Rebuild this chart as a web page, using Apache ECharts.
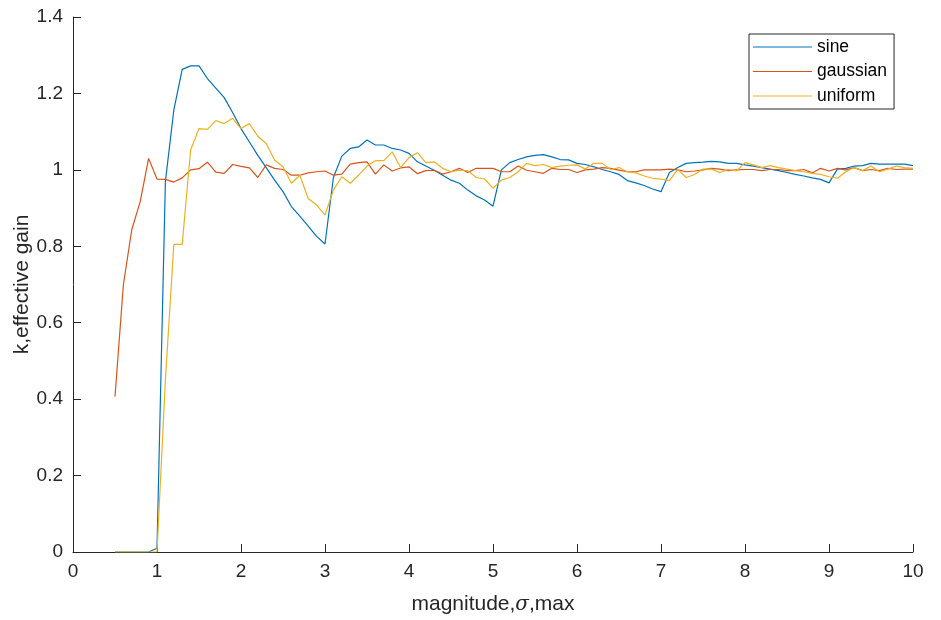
<!DOCTYPE html>
<html>
<head>
<meta charset="utf-8">
<script src="https://cdn.jsdelivr.net/npm/echarts@6/dist/echarts.min.js"></script>
<style>html,body{margin:0;padding:0;background:#fff}#c{width:941px;height:620px}</style>
</head>
<body>
<div id="c"></div>
<script>
const magnitude = [0.5,0.6,0.7,0.8,0.9,1.0,1.1,1.2,1.3,1.4,1.5,1.6,1.7,1.8,1.9,2.0,2.1,2.2,2.3,2.4,2.5,2.6,2.7,2.8,2.9,3.0,3.1,3.2,3.3,3.4,3.5,3.6,3.7,3.8,3.9,4.0,4.1,4.2,4.3,4.4,4.5,4.6,4.7,4.8,4.9,5.0,5.1,5.2,5.3,5.4,5.5,5.6,5.7,5.8,5.9,6.0,6.1,6.2,6.3,6.4,6.5,6.6,6.7,6.8,6.9,7.0,7.1,7.2,7.3,7.4,7.5,7.6,7.7,7.8,7.9,8.0,8.1,8.2,8.3,8.4,8.5,8.6,8.7,8.8,8.9,9.0,9.1,9.2,9.3,9.4,9.5,9.6,9.7,9.8,9.9,10.0];

const sine = [0,0,0,0,0,0.01,0.97,1.156,1.263,1.272,1.272,1.239,1.214,1.189,1.150,1.108,1.073,1.038,1.006,0.973,0.943,0.904,0.879,0.853,0.826,0.806,0.980,1.036,1.056,1.060,1.078,1.065,1.065,1.056,1.052,1.043,1.021,1.010,0.999,0.986,0.973,0.965,0.947,0.932,0.921,0.905,1.000,1.019,1.027,1.034,1.038,1.040,1.034,1.027,1.026,1.017,1.014,1.008,1.001,0.995,0.988,0.972,0.966,0.959,0.950,0.943,0.993,1.006,1.017,1.019,1.020,1.022,1.021,1.017,1.017,1.013,1.010,1.006,1.002,0.998,0.993,0.988,0.984,0.979,0.975,0.966,1.002,1.004,1.010,1.011,1.017,1.015,1.015,1.015,1.015,1.011];

const gaussian = [0.407,0.70,0.844,0.917,1.030,0.976,0.975,0.968,0.979,1.000,1.003,1.020,0.994,0.991,1.014,1.009,1.005,0.980,1.013,1.004,1.001,0.986,0.986,0.992,0.995,0.997,0.986,0.989,1.015,1.019,1.021,0.989,1.013,0.997,1.005,1.008,0.990,0.998,0.999,0.989,0.995,1.004,0.993,1.004,1.004,1.004,0.995,0.995,1.010,0.999,0.995,0.991,1.004,1.001,1.001,0.993,1.000,1.002,1.006,1.004,0.9995,0.995,0.995,1.000,1.000,1.000,1.002,1.000,0.995,0.997,1.000,1.004,1.002,0.998,1.000,1.001,1.001,0.998,1.001,1.001,0.998,0.998,1.001,0.992,1.004,0.997,1.004,1.000,1.006,0.998,1.001,0.998,1.004,1.001,1.002,1.002];

const uniform = [0,0,0,0,0,0,0.45,0.805,0.805,1.052,1.108,1.106,1.129,1.121,1.135,1.108,1.121,1.088,1.069,1.026,1.008,0.965,0.986,0.925,0.908,0.882,0.947,0.982,0.965,0.986,1.010,1.024,1.024,1.047,1.006,1.032,1.045,1.019,1.021,1.004,0.995,0.999,0.998,0.980,0.976,0.952,0.973,0.980,0.995,1.017,1.011,1.014,1.006,1.010,1.012,1.013,1.002,1.017,1.017,1.001,1.006,0.995,0.992,0.984,0.978,0.976,0.972,1.001,0.980,0.988,1.002,1.002,0.993,1.001,0.997,1.019,1.013,1.006,1.011,1.006,1.002,0.998,0.995,0.991,0.988,0.982,0.978,0.995,1.006,0.998,1.010,0.995,1.002,1.010,1.006,1.004];

const seriesNames = ['sine','gaussian','uniform'];
const seriesColors = ['#0072BD','#D95319','#EDB120'];
const seriesValues = [sine, gaussian, uniform];

const FONT = 'Liberation Sans, Arial, sans-serif';
const AX = '#262626';

const chart = echarts.init(document.getElementById('c'), null, {renderer: 'canvas'});

const series = seriesNames.map((name, i) => ({
  name: name,
  type: 'line',
  data: magnitude.map((x, j) => [x, seriesValues[i][j]]),
  symbol: 'none',
  showSymbol: false,
  lineStyle: {color: seriesColors[i], width: 1.2},
  itemStyle: {color: seriesColors[i]},
  emphasis: {disabled: true},
  z: 2 + i
}));

chart.setOption({
  animation: false,
  backgroundColor: '#ffffff',
  grid: {left: 73, right: 28, top: 17, bottom: 68, containLabel: false, outerBoundsMode: 'none'},
  legend: {
    data: seriesNames.map((n, i) => ({name: n, icon: 'rect', itemStyle: {color: seriesColors[i]}})),
    orient: 'vertical',
    left: 749,
    top: 34,
    backgroundColor: '#ffffff',
    borderColor: AX,
    borderWidth: 1,
    padding: [3, 7, 3, 4],
    itemWidth: 59,
    itemHeight: 1.2,
    itemGap: 4.5,
    textStyle: {fontFamily: FONT, fontSize: 17.5, color: '#000', lineHeight: 20},
    selectedMode: false
  },
  xAxis: {
    type: 'value',
    min: 0, max: 10, interval: 1,
    name: 'magnitude,{s|σ},max',
    nameLocation: 'middle',
    nameGap: 42,
    nameMoveOverlap: false,
    nameTextStyle: {
      fontFamily: FONT, fontSize: 21, color: AX,
      rich: {s: {fontFamily: 'DejaVu Serif, serif', fontStyle: 'italic', fontSize: 20, color: AX}}
    },
    axisLine: {show: true, onZero: false, lineStyle: {color: AX, width: 1}},
    axisTick: {show: true, inside: true, length: 8, lineStyle: {color: AX}},
    axisLabel: {fontFamily: FONT, fontSize: 19, color: AX, margin: 10},
    splitLine: {show: false}
  },
  yAxis: {
    type: 'value',
    min: 0, max: 1.4, interval: 0.2,
    name: 'k,effective gain',
    nameLocation: 'middle',
    nameGap: 40,
    nameMoveOverlap: false,
    nameTextStyle: {fontFamily: FONT, fontSize: 21, color: AX},
    axisLine: {show: true, onZero: false, lineStyle: {color: AX, width: 1}},
    axisTick: {show: true, inside: true, length: 8, lineStyle: {color: AX}},
    axisLabel: {fontFamily: FONT, fontSize: 19, color: AX, margin: 10},
    splitLine: {show: false}
  },
  series: series
});
</script>
</body>
</html>
